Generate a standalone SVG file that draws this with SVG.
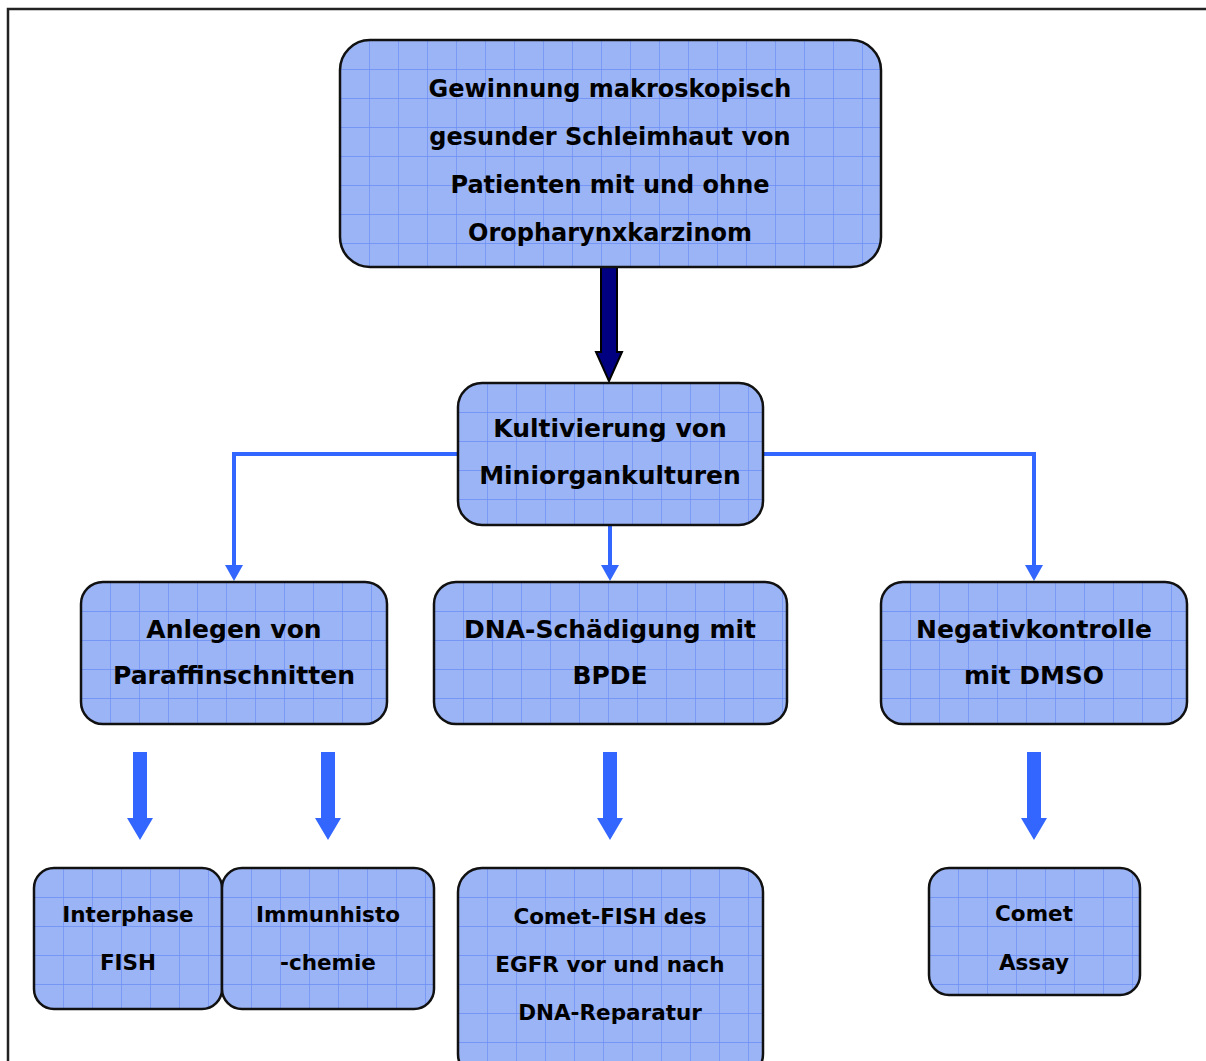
<svg xmlns="http://www.w3.org/2000/svg" width="1206" height="1061" viewBox="0 0 1206 1061">
<defs>
<pattern id="grid" patternUnits="userSpaceOnUse" width="29" height="29">
<rect width="29" height="29" fill="#9bb4f6"/>
<path d="M0 0H29M0 0V29" stroke="#6a8cf7" stroke-width="1.3" fill="none"/>
</pattern>
<marker id="ah" markerUnits="userSpaceOnUse" markerWidth="16" markerHeight="18" refX="1" refY="9" orient="auto" viewBox="0 0 16 18">
<path d="M0 0L16 9L0 18Z" fill="#3366ff"/>
</marker>
<style>
.box{fill:url(#grid);stroke:#111;stroke-width:2.5}
.t{font-family:"DejaVu Sans",sans-serif;font-weight:bold;fill:#000;text-anchor:middle}
.l{font-size:24px}
.m{font-size:25px}
.s{font-size:21.5px}
.conn{fill:none;stroke:#3366ff;stroke-width:4}
.fat{fill:#3366ff}
</style>
</defs>
<rect width="1206" height="1061" fill="#fff"/>
<path d="M8 1061V9H1206" fill="none" stroke="#222" stroke-width="2.5"/>

<g id="connectors">
<path d="M601 267V352H596L609 381L622 352H617V267Z" fill="#000080" stroke="#000" stroke-width="2"/>
<path class="conn" d="M458 454H234V566" marker-end="url(#ah)"/>
<path class="conn" d="M763 454H1034V566" marker-end="url(#ah)"/>
<path class="conn" d="M610 525V566" marker-end="url(#ah)"/>
<path class="fat" d="M133 752H147V818H153L140 840L127 818H133Z"/>
<path class="fat" d="M321 752H335V818H341L328 840L315 818H321Z"/>
<path class="fat" d="M603 752H617V818H623L610 840L597 818H603Z"/>
<path class="fat" d="M1027 752H1041V818H1047L1034 840L1021 818H1027Z"/>
</g>

<g id="n1" transform="translate(340,40)">
<rect class="box" width="541" height="227" rx="30"/>
<text class="t l" x="270" y="57">Gewinnung makroskopisch</text>
<text class="t l" x="270" y="105">gesunder Schleimhaut von</text>
<text class="t l" x="270" y="153">Patienten mit und ohne</text>
<text class="t l" x="270" y="201">Oropharynxkarzinom</text>
</g>
<g id="n2" transform="translate(458,383)">
<rect class="box" width="305" height="142" rx="24"/>
<text class="t m" x="152" y="54">Kultivierung von</text>
<text class="t m" x="152" y="101">Miniorgankulturen</text>
</g>
<g id="n3" transform="translate(81,582)">
<rect class="box" width="306" height="142" rx="22"/>
<text class="t m" x="153" y="56">Anlegen von</text>
<text class="t m" x="153" y="102">Paraffinschnitten</text>
</g>
<g id="n4" transform="translate(434,582)">
<rect class="box" width="353" height="142" rx="22"/>
<text class="t m" x="176" y="56">DNA-Schädigung mit</text>
<text class="t m" x="176" y="102">BPDE</text>
</g>
<g id="n5" transform="translate(881,582)">
<rect class="box" width="306" height="142" rx="22"/>
<text class="t m" x="153" y="56">Negativkontrolle</text>
<text class="t m" x="153" y="102">mit DMSO</text>
</g>
<g id="n6" transform="translate(34,868)">
<rect class="box" width="188" height="141" rx="20"/>
<text class="t s" x="94" y="54">Interphase</text>
<text class="t s" x="94" y="102">FISH</text>
</g>
<g id="n7" transform="translate(222,868)">
<rect class="box" width="212" height="141" rx="20"/>
<text class="t s" x="106" y="54">Immunhisto</text>
<text class="t s" x="106" y="102">-chemie</text>
</g>
<g id="n8" transform="translate(458,868)">
<rect class="box" width="305" height="210" rx="24"/>
<text class="t s" x="152" y="56">Comet-FISH des</text>
<text class="t s" x="152" y="104">EGFR vor und nach</text>
<text class="t s" x="152" y="152">DNA-Reparatur</text>
</g>
<g id="n9" transform="translate(929,868)">
<rect class="box" width="211" height="127" rx="20"/>
<text class="t s" x="105" y="53">Comet</text>
<text class="t s" x="105" y="102">Assay</text>
</g>
</svg>
